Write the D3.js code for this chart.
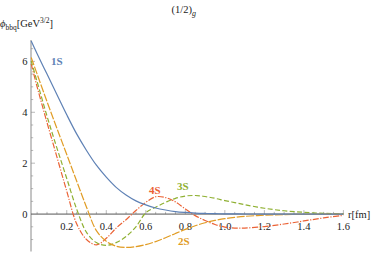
<!DOCTYPE html>
<html><head><meta charset="utf-8">
<script src="https://cdn.jsdelivr.net/npm/d3@7"></script>
<style>
body{margin:0;background:#fff;}
</style></head>
<body><svg id="c" width="374" height="254"></svg>
<script>
const r = [0.02,0.05,0.1,0.15,0.2,0.25,0.3,0.35,0.4,0.45,0.5,0.55,0.6,0.65,0.7,0.75,0.8,0.85,0.9,0.95,1.0,1.05,1.1,1.2,1.3,1.4,1.5,1.6];
const s1 = [6.8,6.3,5.5,4.7,3.9,3.15,2.5,1.92,1.45,1.05,0.75,0.52,0.36,0.24,0.16,0.1,0.065,0.04,0.025,0.015,0.01,0.006,0.004,0.002,0.001,0,0,0];
const s2 = [6.15,5.5,4.42,3.37,2.34,1.3,0.27,-0.65,-1.07,-1.26,-1.31,-1.28,-1.2,-1.08,-0.93,-0.76,-0.6,-0.46,-0.34,-0.25,-0.18,-0.13,-0.09,-0.045,-0.02,-0.01,-0.004,0];
const s3 = [6.02,5.2,3.85,2.6,1.4,0.2,-0.72,-1.12,-1.23,-1.12,-0.88,-0.5,0.05,0.27,0.46,0.62,0.71,0.73,0.69,0.62,0.53,0.45,0.37,0.23,0.13,0.07,0.03,0.01];
const s4 = [5.9,5.0,3.6,2.25,0.9,-0.38,-1.0,-1.21,-0.95,-0.55,-0.22,0.14,0.46,0.68,0.65,0.48,0.2,-0.06,-0.25,-0.41,-0.51,-0.55,-0.55,-0.49,-0.39,-0.27,-0.15,-0.05];
const seriesNames = ["1S","2S","3S","4S"];
const xTicks = [0.2,0.4,0.6,0.8,1.0,1.2,1.4,1.6];
const yTicks = [0,2,4,6];

const FONT = "'Liberation Serif','Times New Roman','DejaVu Serif',serif";
const svg = d3.select("#c").attr("font-family",FONT);
const x = d3.scaleLinear().domain([0.019,1.6]).range([31,343.4]);
const y = d3.scaleLinear().domain([-1.47,6.84]).range([251.5,40]);

const axisCol = "#8a8a8a";
const xMinor = d3.range(1,33).map(i=>i*0.05).filter(v=>v>0.03 && v<=1.6001);
svg.append("g").selectAll("line").data(xMinor).join("line")
  .attr("x1",d=>x(d)).attr("x2",d=>x(d))
  .attr("y1",y(0)).attr("y2",d=>y(0)-(Math.abs(d*5-Math.round(d*5))<1e-6?4:2.2))
  .attr("stroke",axisCol).attr("stroke-width",0.6);
const yMinor = d3.range(-2,14).map(i=>i*0.5).filter(v=>v!==0 && v>-1.47 && v<6.84);
svg.append("g").selectAll("line").data(yMinor).join("line")
  .attr("y1",d=>y(d)).attr("y2",d=>y(d))
  .attr("x1",31).attr("x2",d=>31+(d%2===0?4:2.2))
  .attr("stroke",axisCol).attr("stroke-width",0.6);

svg.append("line").attr("x1",31).attr("x2",31).attr("y1",40).attr("y2",251.5).attr("stroke",axisCol).attr("stroke-width",1);
svg.append("line").attr("x1",31).attr("x2",343.4).attr("y1",y(0)).attr("y2",y(0)).attr("stroke","#555").attr("stroke-width",1);

svg.append("g").selectAll("text").data(xTicks).join("text")
  .attr("x",d=>x(d)).attr("y",229.5).attr("text-anchor","middle")
  .attr("font-size",10.5).attr("fill","#222").text(d=>d.toFixed(1));
svg.append("g").selectAll("text").data(yTicks).join("text")
  .attr("x",27.5).attr("y",d=>y(d)+3.5).attr("text-anchor","end")
  .attr("font-size",10.5).attr("fill","#222").text(d=>d);

const colors = ["#5e81b5","#e19c24","#8fb032","#eb6235"];
const dashes = [null,"8,1.6","5,2.4","6,1.5,1.2,1.5"];
const vals = [s1,s2,s3,s4];
const line = d3.line().x(d=>x(d[0])).y(d=>y(d[1])).curve(d3.curveCatmullRom.alpha(0.5));
[3,2,1,0].forEach(i=>{
  svg.append("path").datum(r.map((rv,k)=>[rv,vals[i][k]]))
    .attr("d",line).attr("fill","none").attr("stroke",colors[i])
    .attr("stroke-width",1.2).attr("stroke-dasharray",dashes[i]);
});

const labPos = [[51,65],[178,245],[177,190],[149,194]];
seriesNames.forEach((n,i)=>{
  svg.append("text").attr("x",labPos[i][0]).attr("y",labPos[i][1])
    .attr("font-size",11).attr("font-weight","bold").attr("fill",colors[i]).text(n);
});

const t = svg.append("text").attr("x",171.5).attr("y",13).attr("font-size",10.5).attr("fill","#222");
t.append("tspan").text("(1/2)");
t.append("tspan").attr("dy",2.5).attr("font-size",8).attr("font-style","italic").text("g");

const yl = svg.append("text").attr("x",0).attr("y",27).attr("font-size",10.5).attr("fill","#222");
yl.append("tspan").attr("font-style","italic").text("ϕ");
yl.append("tspan").attr("dy",2.5).attr("font-size",7.5).text("bbq");
yl.append("tspan").attr("dy",-2.5).text("[GeV");
yl.append("tspan").attr("dy",-4).attr("font-size",7.5).text("3/2");
yl.append("tspan").attr("dy",4).text("]");

svg.append("text").attr("x",348).attr("y",217.5).attr("font-size",10.5).attr("fill","#222").text("r[fm]");
</script></body></html>
